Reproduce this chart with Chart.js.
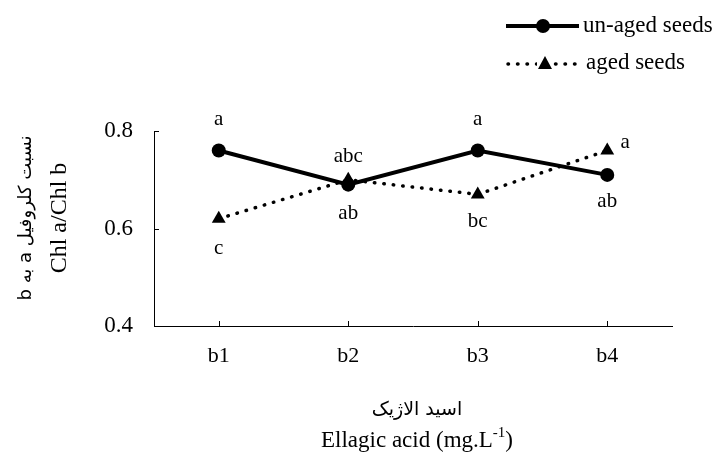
<!DOCTYPE html>
<html>
<head>
<meta charset="utf-8">
<script src="https://cdn.jsdelivr.net/npm/chart.js@4.4.1/dist/chart.umd.min.js"></script>
<style>
  html, body { margin: 0; padding: 0; background: #fff; }
</style>
</head>
<body>
<canvas id="chl" width="720" height="459"></canvas>
<script>
// data
const categories = ['b1', 'b2', 'b3', 'b4'];
const unagedValues = [0.76, 0.69, 0.76, 0.71];
const agedValues = [0.62, 0.70, 0.67, 0.76];
const unagedLetters = ['a', 'ab', 'a', 'ab'];
const agedLetters = ['c', 'abc', 'bc', 'a'];
const yTicks = [0.4, 0.6, 0.8];

const serif = "'Liberation Serif', 'Times New Roman', serif";
const persian = "'DejaVu Sans', 'Noto Sans', sans-serif";

// where each letter sits relative to its point (dx, dy in px)
const letterOffsets = {
  0: [[0, -31], [0, 29], [0, -31], [0, 27]],
  1: [[0, 30], [0, -23], [0, 27], [18, -8]]
};

const extras = {
  id: 'extras',
  afterDraw(chart) {
    const ctx = chart.ctx;
    const area = chart.chartArea;
    const xs = chart.scales.x, ys = chart.scales.y;
    ctx.save();
    ctx.strokeStyle = '#000';
    ctx.lineWidth = 1;

    // inward tick marks
    yTicks.forEach(v => {
      const py = Math.round(ys.getPixelForValue(v)) + 0.5;
      ctx.beginPath();
      ctx.moveTo(area.left, py);
      ctx.lineTo(area.left + 5, py);
      ctx.stroke();
    });
    categories.forEach((c, i) => {
      const px = Math.round(xs.getPixelForValue(i)) + 0.5;
      ctx.beginPath();
      ctx.moveTo(px, area.bottom);
      ctx.lineTo(px, area.bottom - 5);
      ctx.stroke();
    });

    // significance letters
    ctx.fillStyle = '#000';
    ctx.font = '21px ' + serif;
    ctx.textAlign = 'center';
    ctx.textBaseline = 'middle';
    [unagedLetters, agedLetters].forEach((letters, d) => {
      const meta = chart.getDatasetMeta(d);
      meta.data.forEach((pt, i) => {
        const off = letterOffsets[d][i];
        ctx.fillText(letters[i], pt.x + off[0], pt.y + off[1]);
      });
    });

    // y axis title (two lines, rotated)
    const cy = 218;
    ctx.save();
    ctx.translate(26, cy);
    ctx.rotate(-Math.PI / 2);
    ctx.direction = 'rtl';
    ctx.font = '18px ' + persian;
    ctx.fillText('نسبت کلروفیل a به b', 0, 0);
    ctx.restore();
    ctx.save();
    ctx.translate(60, cy);
    ctx.rotate(-Math.PI / 2);
    ctx.font = '24px ' + serif;
    ctx.fillText('Chl a/Chl b', 0, 0);
    ctx.restore();

    // x axis title
    const cx = 417;
    ctx.save();
    ctx.direction = 'rtl';
    ctx.font = '19px ' + persian;
    ctx.fillText('اسید الاژیک', cx, 410);
    ctx.restore();
    ctx.font = '23px ' + serif;
    const a = 'Ellagic acid (mg.L', sup = '-1', b = ')';
    const wa = ctx.measureText(a).width, wb = ctx.measureText(b).width;
    ctx.font = '15px ' + serif;
    const ws = ctx.measureText(sup).width;
    let x0 = cx - (wa + ws + wb) / 2;
    ctx.textAlign = 'left';
    ctx.font = '23px ' + serif;
    ctx.fillText(a, x0, 441);
    ctx.font = '15px ' + serif;
    ctx.fillText(sup, x0 + wa, 433);
    ctx.font = '23px ' + serif;
    ctx.fillText(b, x0 + wa + ws, 441);

    // legend
    ctx.lineCap = 'butt';
    ctx.lineWidth = 4;
    ctx.beginPath();
    ctx.moveTo(506, 26);
    ctx.lineTo(579, 26);
    ctx.stroke();
    ctx.beginPath();
    ctx.arc(543, 26, 7, 0, Math.PI * 2);
    ctx.fill();
    ctx.lineWidth = 3.5;
    ctx.lineCap = 'round';
    ctx.setLineDash([0.5, 9]);
    ctx.beginPath();
    ctx.moveTo(508, 64);
    ctx.lineTo(580, 64);
    ctx.stroke();
    ctx.setLineDash([]);
    ctx.fillStyle = '#fff';
    ctx.fillRect(537, 55, 16, 16);
    ctx.fillStyle = '#000';
    ctx.beginPath();
    ctx.moveTo(545, 56);
    ctx.lineTo(552, 69);
    ctx.lineTo(538, 69);
    ctx.closePath();
    ctx.fill();
    ctx.font = '23px ' + serif;
    ctx.textAlign = 'left';
    ctx.fillText('un-aged seeds', 583, 26);
    ctx.fillText('aged seeds', 586, 63);
    ctx.restore();
  }
};

new Chart(document.getElementById('chl'), {
  type: 'line',
  data: {
    labels: categories,
    datasets: [
      {
        label: 'un-aged seeds',
        data: unagedValues,
        borderColor: '#000',
        backgroundColor: '#000',
        borderWidth: 4,
        pointStyle: 'circle',
        pointRadius: 7,
        pointBackgroundColor: '#000',
        pointBorderWidth: 0,
        tension: 0
      },
      {
        label: 'aged seeds',
        data: agedValues,
        borderColor: '#000',
        backgroundColor: '#000',
        borderWidth: 3.5,
        borderDash: [0.5, 9],
        borderCapStyle: 'round',
        pointStyle: 'triangle',
        pointRadius: 8,
        pointBackgroundColor: '#000',
        pointBorderWidth: 0,
        tension: 0
      }
    ]
  },
  options: {
    responsive: false,
    animation: false,
    layout: { padding: { top: 131, right: 48, left: 0, bottom: 0 } },
    plugins: {
      legend: { display: false },
      tooltip: { enabled: false }
    },
    scales: {
      x: {
        offset: true,
        grid: { display: false, drawTicks: false },
        border: { display: true, color: '#000', width: 1 },
        ticks: { color: '#000', font: { family: serif, size: 22 }, padding: 17 },
        afterFit: s => { s.height = 133; }
      },
      y: {
        min: 0.4,
        max: 0.8,
        grid: { display: false, drawTicks: false },
        border: { display: true, color: '#000', width: 1 },
        afterBuildTicks: s => { s.ticks = yTicks.map(v => ({ value: v })); },
        ticks: {
          color: '#000',
          font: { family: serif, size: 23 },
          padding: 21,
          callback: v => v.toFixed(1)
        },
        afterFit: s => { s.width = 154; }
      }
    }
  },
  plugins: [extras]
});
</script>
</body>
</html>
